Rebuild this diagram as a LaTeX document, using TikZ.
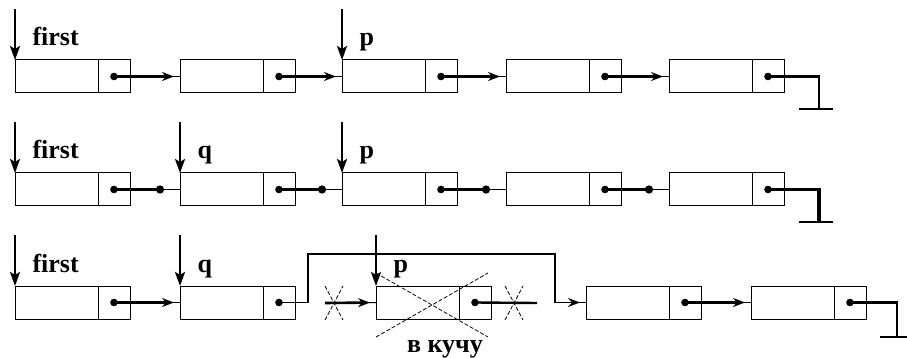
\documentclass[tikz,border=0pt]{standalone}
\usepackage{fontspec}
\setmainfont{Liberation Serif}
\usetikzlibrary{arrows.meta,positioning}

\begin{document}
\begin{tikzpicture}[x=1pt, y=-1pt, line width=1pt,
	elem/.style={draw, anchor=north west, minimum width=83pt, minimum height=33pt, inner sep=0pt, outer sep=0pt},
	cell/.style={draw, minimum width=32pt, minimum height=33pt, inner sep=0pt, outer sep=0pt},
	ptr/.style={line width=2.6pt, -{Stealth[length=14pt,width=10pt,inset=3pt]}},
	link/.style={line width=2.6pt, shorten >=6pt, -{Stealth[length=12pt,width=9pt,inset=4pt]}, postaction={draw, -, shorten >=0pt, line width=1pt}},
	fatlink/.style={line width=3.4pt, shorten >=16pt, -{Circle[length=8pt]}, postaction={draw, -, shorten >=0pt, line width=1pt}},
	ground/.style={line width=2.4pt},
	lbl/.style={anchor=base west, inner sep=0pt, font=\fontsize{26}{26}\selectfont\bfseries},
	cross/.style={line width=0.8pt, dash pattern=on 4pt off 2pt}]
	\useasboundingbox (0,0) rectangle (907,358);

	% Lists (data part + pointer part):
	\foreach \r/\y in {1/60, 2/173}
		\foreach \n/\x in {a/15, b/180, c/342, d/506, e/669} {
			\node[elem] (r\r\n) at (\x,\y) {};
			\node[cell, right=0pt of r\r\n] (r\r\n p) {};
			\fill (r\r\n p.center) circle (3.8pt);
		}
	\foreach \n/\x in {a/15, b/180, c/376, d/586, e/751} {
		\node[elem] (r3\n) at (\x,286) {};
		\node[cell, right=0pt of r3\n] (r3\n p) {};
		\fill (r3\n p.center) circle (3.8pt);
	}

	% Pointers and their names:
	\foreach \b in {r1a, r1c, r2a, r2b, r2c, r3a, r3b, r3c}
		\draw[ptr] ([yshift=51pt]\b.north west) -- (\b.north west);
	\node[lbl] (n1f) at ([xshift=17pt,yshift=14pt]r1a.north west) {first};
	\node[lbl] (n1p) at ([xshift=17pt,yshift=14pt]r1c.north west) {p};
	\node[lbl] (n2f) at ([xshift=17pt,yshift=14pt]r2a.north west) {first};
	\node[lbl] (n2q) at ([xshift=17pt,yshift=14pt]r2b.north west) {q};
	\node[lbl] (n2p) at ([xshift=17pt,yshift=14pt]r2c.north west) {p};
	\node[lbl] (n3f) at ([xshift=17pt,yshift=14pt]r3a.north west) {first};
	\node[lbl] (n3q) at ([xshift=17pt,yshift=14pt]r3b.north west) {q};
	\node[lbl] (n3p) at ([xshift=17pt,yshift=14pt]r3c.north west) {p};

	% Row 1
	\draw[link] (r1ap.center) -- (r1b.west);
	\draw[link] (r1bp.center) -- (r1c.west);
	\draw[link] (r1cp.center) -- (r1d.west);
	\draw[link] (r1dp.center) -- (r1e.west);
	\coordinate (g1) at (819,109);
	\draw[ground] (r1ep.center) -| (g1);
	\draw[line width=1.5pt] ([xshift=-20pt]g1) -- ([xshift=14pt]g1);

	% Row 2
	\draw[fatlink] (r2ap.center) -- (r2b.west);
	\draw[fatlink] (r2bp.center) -- (r2c.west);
	\draw[fatlink] (r2cp.center) -- (r2d.west);
	\draw[fatlink] (r2dp.center) -- (r2e.west);
	\coordinate (g2) at (819,222);
	\draw[ground, line width=3.4pt] (r2ep.center) -| (g2);
	\draw[line width=1.5pt] ([xshift=-20pt]g2) -- ([xshift=14pt]g2);

	% Row 3
	\draw[link] (r3ap.center) -- (r3b.west);
	\coordinate (up1) at (308,254);
	\coordinate (up2) at (555,254);
	\draw[link, line width=1.6pt] (r3bp.center) -| (up1) -- (up2) |- (r3d.west);
	\draw[link] (r3dp.center) -- (r3e.west);
	\coordinate (cut1) at (325,303);
	\draw[link] (cut1) -- (r3c.west);
	\draw[cross] (325,286) -- (343,320) (325,320) -- (343,286);
	\coordinate (cut2) at (537,303);
	\draw[ground] (r3cp.center) -- (cut2);
	\draw[cross] (505,286) -- (523,320) (505,320) -- (523,286);
	\draw[cross] (376,273) -- (488,337) (376,337) -- (488,273);
	\node[anchor=base, inner sep=0pt, font=\fontsize{26}{26}\selectfont\bfseries] (heap) at (445,352) {в кучу};
	\coordinate (g3) at (897,337);
	\draw[ground] (r3ep.center) -| (g3);
	\draw[line width=1.5pt] ([xshift=-17pt]g3) -- ([xshift=10pt]g3);
\end{tikzpicture}
\end{document}
